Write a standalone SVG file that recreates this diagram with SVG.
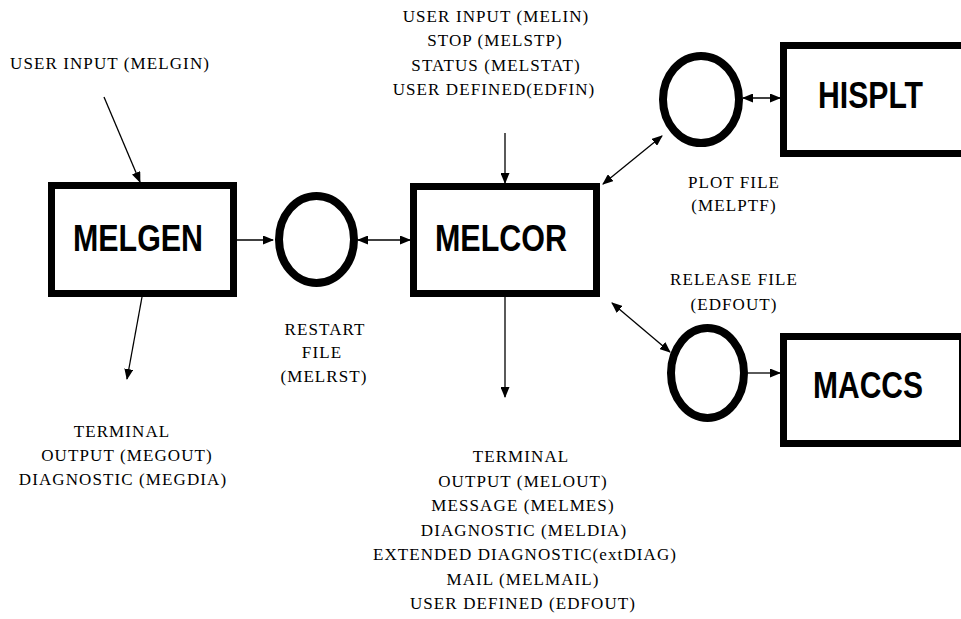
<svg xmlns="http://www.w3.org/2000/svg" width="961" height="619" viewBox="0 0 961 619">
<style>
.box{fill:#fff;stroke:#000;stroke-width:7}
.file{fill:#fff;stroke:#000;stroke-width:8}
.title{font-family:"Liberation Sans",Arial,sans-serif;font-weight:bold;font-size:36px;fill:#000}
.lbl{font-family:"Liberation Serif","Times New Roman",serif;font-size:17px;letter-spacing:1.1px;fill:#000}
.c{text-anchor:middle}
.conn{stroke:#000;stroke-width:1.3;fill:none}
</style>
<defs>
<marker id="ah" markerUnits="userSpaceOnUse" markerWidth="11" markerHeight="9" refX="10" refY="4.5" orient="auto-start-reverse">
<path d="M0,0 L11,4.5 L0,9 z" fill="#000"/>
</marker>
</defs>
<rect width="961" height="619" fill="#fff"/>

<g id="connectors">
<line class="conn" x1="104" y1="97" x2="140" y2="182" marker-end="url(#ah)"/>
<line class="conn" x1="237" y1="240" x2="273" y2="240" marker-end="url(#ah)"/>
<line class="conn" x1="358" y1="240" x2="410" y2="240" marker-start="url(#ah)" marker-end="url(#ah)"/>
<line class="conn" x1="505" y1="133" x2="505" y2="183" marker-end="url(#ah)"/>
<line class="conn" x1="603" y1="184" x2="662" y2="136" marker-start="url(#ah)" marker-end="url(#ah)"/>
<line class="conn" x1="743" y1="98" x2="780" y2="98" marker-start="url(#ah)" marker-end="url(#ah)"/>
<line class="conn" x1="612" y1="303" x2="670" y2="352" marker-start="url(#ah)" marker-end="url(#ah)"/>
<line class="conn" x1="748" y1="373" x2="780" y2="373" marker-end="url(#ah)"/>
<line class="conn" x1="505" y1="297" x2="505" y2="397" marker-end="url(#ah)"/>
<line class="conn" x1="142" y1="297" x2="127" y2="379" marker-end="url(#ah)"/>
</g>

<g id="melgen">
<rect class="box" x="51.5" y="185.5" width="182" height="108"/>
<text class="title" x="73" y="251" textLength="130" lengthAdjust="spacingAndGlyphs">MELGEN</text>
</g>

<g id="melcor">
<rect class="box" x="413.5" y="186.5" width="183" height="107"/>
<text class="title" x="435" y="251" textLength="132" lengthAdjust="spacingAndGlyphs">MELCOR</text>
</g>

<g id="hisplt">
<rect class="box" x="783.5" y="45.5" width="200" height="108"/>
<text class="title" x="818" y="108" textLength="105" lengthAdjust="spacingAndGlyphs">HISPLT</text>
</g>

<g id="maccs">
<rect class="box" x="783.5" y="336.5" width="179" height="107"/>
<text class="title" x="813" y="398" textLength="110" lengthAdjust="spacingAndGlyphs">MACCS</text>
</g>

<g id="restart-file">
<ellipse class="file" cx="316.5" cy="239.5" rx="37.5" ry="43.5"/>
<text class="lbl c" x="325" y="335">RESTART</text>
<text class="lbl c" x="322" y="358">FILE</text>
<text class="lbl c" x="324" y="382">(MELRST)</text>
</g>

<g id="plot-file">
<ellipse class="file" cx="701" cy="99.5" rx="38" ry="43.5"/>
<text class="lbl c" x="734" y="188">PLOT FILE</text>
<text class="lbl c" x="734" y="211">(MELPTF)</text>
</g>

<g id="release-file">
<ellipse class="file" cx="707.5" cy="373" rx="36.5" ry="45"/>
<text class="lbl c" x="734" y="285">RELEASE FILE</text>
<text class="lbl c" x="734" y="310">(EDFOUT)</text>
</g>

<g id="melgen-input">
<text class="lbl" x="10" y="69">USER INPUT (MELGIN)</text>
</g>

<g id="melgen-output">
<text class="lbl c" x="122" y="437">TERMINAL</text>
<text class="lbl c" x="127" y="461">OUTPUT (MEGOUT)</text>
<text class="lbl c" x="123" y="485">DIAGNOSTIC (MEGDIA)</text>
</g>

<g id="melcor-input">
<text class="lbl c" x="496" y="22">USER INPUT (MELIN)</text>
<text class="lbl c" x="495" y="46">STOP (MELSTP)</text>
<text class="lbl c" x="496" y="71">STATUS (MELSTAT)</text>
<text class="lbl c" x="494" y="95">USER DEFINED(EDFIN)</text>
</g>

<g id="melcor-output">
<text class="lbl c" x="521" y="462">TERMINAL</text>
<text class="lbl c" x="523" y="487">OUTPUT (MELOUT)</text>
<text class="lbl c" x="523" y="511">MESSAGE (MELMES)</text>
<text class="lbl c" x="524" y="536">DIAGNOSTIC (MELDIA)</text>
<text class="lbl c" x="525" y="560">EXTENDED DIAGNOSTIC(extDIAG)</text>
<text class="lbl c" x="523" y="585">MAIL (MELMAIL)</text>
<text class="lbl c" x="523" y="609">USER DEFINED (EDFOUT)</text>
</g>
</svg>
